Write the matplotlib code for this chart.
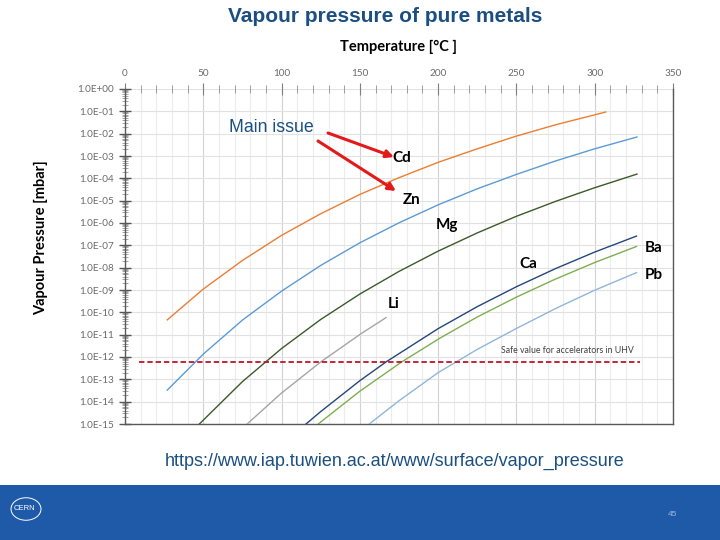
import numpy as np
import matplotlib
matplotlib.use("Agg")
import matplotlib.pyplot as plt
from matplotlib.ticker import FixedLocator, FuncFormatter, LogLocator, NullFormatter
from matplotlib.patches import Rectangle, Circle, FancyArrowPatch

# ------------------------------------------------------------------ #
#  Data (temperature in degC, pressure in mbar)
# ------------------------------------------------------------------ #
cd_t = [27, 50, 75, 100, 125, 150, 175, 200, 225, 250, 275, 307]
cd_p = [4.6e-11, 1.1e-09, 2.1e-08, 2.8e-07, 2.6e-06, 1.9e-05, 1.07e-04, 5.2e-04, 2.1e-03, 7.8e-03, 2.5e-02, 9.3e-02]

zn_t = [27, 50, 75, 100, 125, 150, 175, 200, 225, 250, 275, 300, 327]
zn_p = [3.3e-14, 1.35e-12, 4.5e-11, 8.9e-10, 1.26e-08, 1.3e-07, 1.02e-06, 6.5e-06, 3.4e-05, 1.5e-04, 6.0e-04, 2.1e-03, 7.1e-03]

mg_t = [47.5, 75, 100, 125, 150, 175, 200, 225, 250, 275, 300, 327]
mg_p = [1.0e-15, 7.9e-14, 2.4e-12, 4.8e-11, 6.6e-10, 6.8e-09, 5.5e-08, 3.6e-07, 2.0e-06, 9.3e-06, 3.8e-05, 1.55e-04]

li_t = [78, 100, 125, 150, 166.7]
li_p = [1.0e-15, 2.45e-14, 6.0e-13, 1.02e-11, 5.8e-11]

ca_t = [115.6, 125, 150, 166.7, 200, 225, 250, 275, 300, 326.7]
ca_p = [1.0e-15, 3.6e-15, 8.7e-14, 6.0e-13, 1.86e-11, 1.8e-10, 1.4e-09, 9.1e-09, 5.0e-08, 2.6e-07]

ba_t = [123.4, 150, 176.7, 201, 225, 250, 275, 300, 326.7]
ba_p = [1.0e-15, 2.95e-14, 6.0e-13, 6.9e-12, 6.2e-11, 4.8e-10, 3.1e-09, 1.7e-08, 8.9e-08]

pb_t = [156, 175, 200, 225, 250, 275, 300, 326.7]
pb_p = [1.0e-15, 1.1e-14, 2.0e-13, 2.2e-12, 1.9e-11, 1.48e-10, 9.8e-10, 6.0e-09]

safe_p = 6.0e-13
safe_t = [9, 329]

curves = [
    ("Cd", cd_t, cd_p, "#ed7d31"),
    ("Zn", zn_t, zn_p, "#5b9bd5"),
    ("Mg", mg_t, mg_p, "#3b5a2a"),
    ("Li", li_t, li_p, "#a5a5a5"),
    ("Ca", ca_t, ca_p, "#23477a"),
    ("Ba", ba_t, ba_p, "#7fae4f"),
    ("Pb", pb_t, pb_p, "#8fb6dc"),
]

# label anchor points (degC, mbar)
label_pos = {
    "Cd": (171, 8.3e-04),
    "Zn": (177.5, 1.1e-05),
    "Mg": (198.6, 8.3e-07),
    "Ca": (251.6, 1.5e-08),
    "Li": (168, 2.4e-10),
    "Ba": (332, 7.8e-08),
    "Pb": (332, 4.8e-09),
}

x_major = [0, 50, 100, 150, 200, 250, 300, 350]
x_minor = list(range(0, 351, 10))
y_decades = [10.0 ** -k for k in range(0, 16)]

# ------------------------------------------------------------------ #
#  Figure
# ------------------------------------------------------------------ #
W, H = 720, 540
fig = plt.figure(figsize=(W / 100, H / 100), dpi=100)
fig.patch.set_facecolor("white")

chart_font = ["Lato", "DejaVu Sans"]
slide_font = ["Liberation Sans", "DejaVu Sans"]
slide_blue = "#1b4f82"
tick_grey = "#6b6b6b"

ax = fig.add_axes([125 / W, 1 - 424 / H, 548 / W, 335 / H])
ax.set_xlim(0, 350)
ax.set_yscale("log")
ax.set_ylim(1e-15, 1)

# grid
for t in x_minor:
    c = "#d2d2d2" if t % 50 == 0 else "#ececec"
    ax.axvline(t, color=c, lw=0.8, zorder=0)
for p in y_decades:
    ax.axhline(p, color="#e2e2e2", lw=0.8, zorder=0)

for name, t, p, col in curves:
    ax.plot(t, p, color=col, lw=1.0, zorder=3)

ax.plot(safe_t, [safe_p, safe_p], color="#c0142a", lw=1.3, ls=(0, (3, 1.6)), zorder=4)
ax.text(240, safe_p * 3.2, "Safe value for accelerators in UHV", fontsize=6.3,
        color="#404040", family=chart_font, va="center", ha="left")

for name, (tx, py) in label_pos.items():
    ax.text(tx, py, name, fontsize=11, fontweight="bold", family=chart_font,
            color="black", ha="left", va="center")

# axes styling
ax.xaxis.tick_top()
ax.xaxis.set_major_locator(FixedLocator(x_major))
ax.xaxis.set_minor_locator(FixedLocator(x_minor))
ax.yaxis.set_major_locator(FixedLocator(y_decades))
ax.yaxis.set_minor_locator(LogLocator(base=10, subs=np.arange(2, 10), numticks=40))
ax.yaxis.set_minor_formatter(NullFormatter())
ax.yaxis.set_major_formatter(FuncFormatter(lambda v, pos: f"{v:.1E}"))

ax.tick_params(axis="x", which="major", direction="inout", length=8, width=0.8,
               color="#7f7f7f", labelsize=7.2, labelcolor=tick_grey, pad=4)
ax.tick_params(axis="x", which="minor", direction="inout", length=6, width=0.6, color="#8f8f8f")
ax.tick_params(axis="y", which="major", direction="inout", length=8, width=1.0,
               color="#555555", labelsize=7.2, labelcolor=tick_grey, pad=4)
ax.tick_params(axis="y", which="minor", direction="inout", length=5, width=0.5, color="#808080")
for lab in ax.get_xticklabels() + ax.get_yticklabels():
    lab.set_family(chart_font)

ax.spines["top"].set_visible(False)
for s in ("left", "bottom", "right"):
    ax.spines[s].set_color("#595959")
    ax.spines[s].set_linewidth(1.0)

# axis titles
fig.text(398 / W, 1 - 47 / H, "Temperature [\u00b0C ]", fontsize=10.5, fontweight="bold",
         family=chart_font, ha="center", va="center")
fig.text(41 / W, 1 - 238 / H, "Vapour Pressure [mbar]", fontsize=10.5, fontweight="bold",
         family=chart_font, ha="center", va="center", rotation=90)

# slide title and annotation
fig.text(385 / W, 1 - 17 / H, "Vapour pressure of pure metals", fontsize=15,
         fontweight="bold", family=slide_font, color=slide_blue, ha="center", va="center")
fig.text(229 / W, 1 - 128 / H, "Main issue", fontsize=12.8, family=slide_font,
         color=slide_blue, ha="left", va="center")
arrow = dict(arrowstyle="-|>", color="#e21a1a", lw=2.2, mutation_scale=11, shrinkA=0, shrinkB=0)
fig.add_artist(FancyArrowPatch((328 / W, 1 - 133 / H), (394 / W, 1 - 157 / H),
                               transform=fig.transFigure, **arrow))
fig.add_artist(FancyArrowPatch((318 / W, 1 - 141 / H), (396 / W, 1 - 191 / H),
                               transform=fig.transFigure, **arrow))

fig.text(395 / W, 1 - 461 / H, "https://www.iap.tuwien.ac.at/www/surface/vapor_pressure",
         fontsize=13, family=slide_font, color=slide_blue, ha="center", va="center")

# footer band
fig.add_artist(Rectangle((0, 0), 1, 55 / H, transform=fig.transFigure,
                         facecolor="#1f5aa8", edgecolor="none", zorder=0))
fig.add_artist(Circle((26 / W, 1 - 509 / H), 15 / W, transform=fig.transFigure,
                      facecolor="none", edgecolor="white", lw=0.7))
fig.text(24 / W, 1 - 508 / H, "CERN", fontsize=5.5, color="white", family=slide_font,
         ha="center", va="center")
fig.text(672 / W, 1 - 514 / H, "45", fontsize=6, color="#9fb6d8", family=slide_font,
         ha="center", va="center")

fig.savefig("out.png", dpi=100, facecolor="white")
